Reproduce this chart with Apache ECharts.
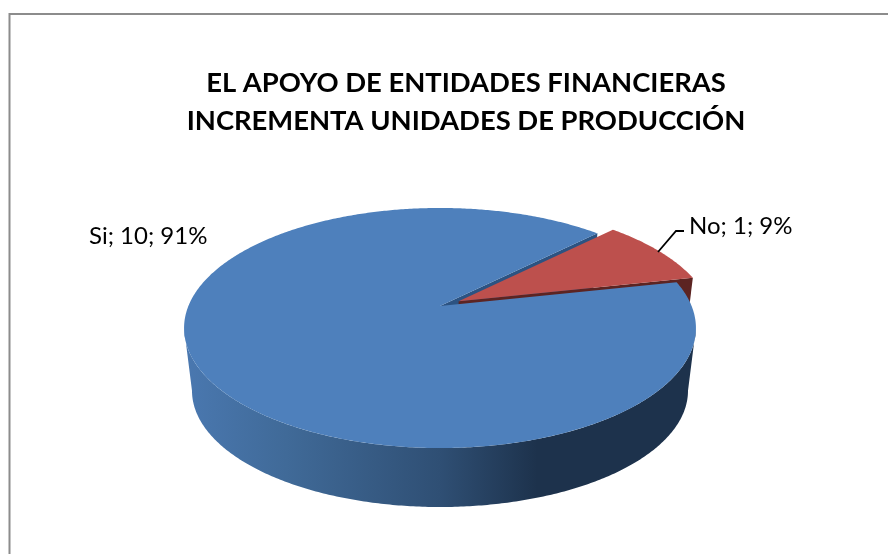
<!DOCTYPE html>
<html>
<head>
<meta charset="utf-8">
<style>html,body{margin:0;padding:0;background:#fff}#c{width:888px;height:554px}</style>
<script src="https://cdn.jsdelivr.net/npm/echarts@6/dist/echarts.min.js"></script>
</head>
<body>
<div id="c"></div>
<script>
const titleLines = ['EL APOYO DE ENTIDADES FINANCIERAS', 'INCREMENTA UNIDADES DE PRODUCCIÓN'];
const categories = ['Si', 'No'];
const values = [10, 1];
const exploded = [0, 0.085];

const FONT = 'Lato, Carlito, Calibri, "Open Sans", sans-serif';
const topColors = ['#4e80bc', '#bd504d'];
const faceColors = ['#2c5382', '#5c2422'];
const firstAngle = 77.7;
const total = values.reduce((a, b) => a + b, 0);
const labelPlace = [
  { x: 89, y: 236, anchor: 'left' },
  { x: 689, y: 226, anchor: 'left' }
];
const leader = [[[658, 252], [676, 231], [684, 231]], null];

const cx = 440, k = 0.1833, a = 251.6, b = 116;
const levels = [{ s: 1, y: 306 }, { s: 0.969, y: 369.4 }];
function project(X, Y, lv) {
  const w = 1 - k * Y, L = levels[lv];
  return [cx + a * L.s * X / w, L.y + b * L.s * Y / w];
}
function rimPt(t, lv, o) { return project(Math.sin(t) + o[0], -Math.cos(t) + o[1], lv); }
function arc(t0, t1, lv, o) {
  const pts = [], n = Math.max(2, Math.ceil(Math.abs(t1 - t0) / 0.01));
  for (let i = 0; i <= n; i++) pts.push(rimPt(t0 + (t1 - t0) * i / n, lv, o));
  return pts;
}
const sideFill = {
  type: 'linear', global: true, x: 184, y: 0, x2: 696, y2: 0,
  colorStops: [
    { offset: 0, color: '#4a78b0' }, { offset: 0.2, color: '#406a98' },
    { offset: 0.5, color: '#2f4f74' }, { offset: 0.69, color: '#1d324c' },
    { offset: 1, color: '#1d324c' }
  ]
};
function renderItem(params) {
  const i = params.dataIndex;
  let before = 0;
  for (let j = 0; j < i; j++) before += values[j];
  const d2r = Math.PI / 180;
  const t0 = (firstAngle + before / total * 360) * d2r;
  const t1 = t0 + values[i] / total * 2 * Math.PI;
  const mid = (t0 + t1) / 2, e = exploded[i];
  const o = [Math.sin(mid) * e, -Math.cos(mid) * e];
  const children = [];
  const top = [project(o[0], o[1], 0)].concat(arc(t0, t1, 0, o));
  // visible outer wall: between the two silhouette tangents (where Y = k)
  const tanA = Math.acos(-k), tanB = 2 * Math.PI - tanA;
  for (const turn of [0, 2 * Math.PI]) {
    const s = Math.max(t0, tanA + turn), f = Math.min(t1, tanB + turn);
    if (f > s) {
      const pts = arc(s, f, 0, o).concat(arc(f, s, 1, o));
      children.push({ type: 'polygon', z2: 1, shape: { points: pts }, style: { fill: sideFill } });
    }
  }
  // radial cut face on the clockwise end of each slice
  const face = [project(o[0], o[1], 0), rimPt(t1, 0, o), rimPt(t1, 1, o), project(o[0], o[1], 1)];
  children.push({ type: 'polygon', z2: 2 + i, shape: { points: face }, style: { fill: faceColors[i] } });
  children.push({ type: 'polygon', z2: i === 1 ? 5 : 6, shape: { points: top }, style: { fill: topColors[i] } });
  if (leader[i]) {
    children.push({ type: 'polyline', z2: 7, shape: { points: leader[i] }, style: { fill: null, stroke: '#000', lineWidth: 1.8 } });
  }
  const pct = Math.round(values[i] / total * 100);
  children.push({
    type: 'text', z2: 8, x: labelPlace[i].x, y: labelPlace[i].y,
    style: { text: categories[i] + '; ' + values[i] + '; ' + pct + '%', fill: '#000', font: '24px ' + FONT, textAlign: labelPlace[i].anchor, textVerticalAlign: 'middle' }
  });
  return { type: 'group', children };
}
const chart = echarts.init(document.getElementById('c'), null, { renderer: 'canvas' });
chart.setOption({
  animation: false,
  backgroundColor: '#fff',
  graphic: [
    { type: 'polyline', shape: { points: [[9.5, 554], [9.5, 14], [888, 14]] }, style: { fill: null, stroke: '#8c8c8c', lineWidth: 2 } },
    { type: 'text', x: 466, y: 83, style: { text: titleLines[0], fill: '#000', font: 'bold 27.4px ' + FONT, textAlign: 'center', textVerticalAlign: 'middle' } },
    { type: 'text', x: 466, y: 121, style: { text: titleLines[1], fill: '#000', font: 'bold 27.4px ' + FONT, textAlign: 'center', textVerticalAlign: 'middle' } }
  ],
  series: [{
    type: 'custom', coordinateSystem: 'none', renderItem,
    data: categories.map((n, i) => ({ name: n, value: values[i] }))
  }]
});
</script>
</body>
</html>
